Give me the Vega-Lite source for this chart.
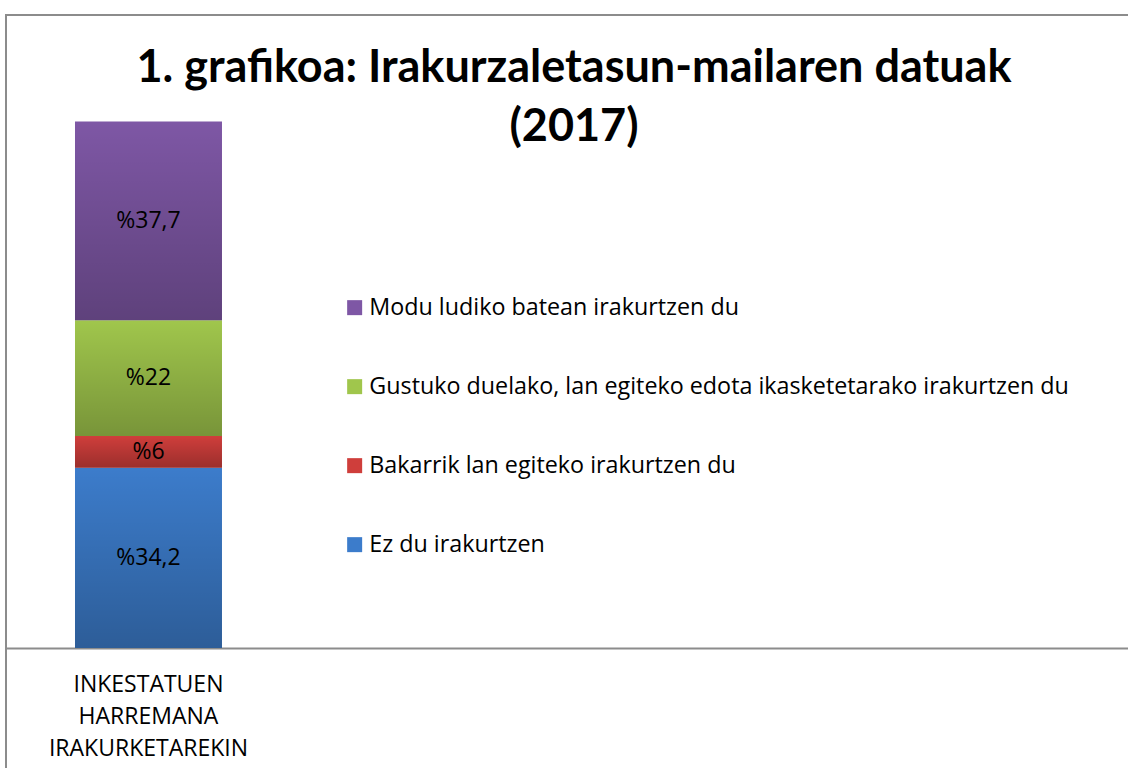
{
  "$schema": "https://vega.github.io/schema/vega-lite/v6.json",
  "width": 1124,
  "height": 760,
  "autosize": "none",
  "padding": {"left": 6, "top": 15, "right": 0, "bottom": 0},
  "background": "white",
  "config": {"view": {"stroke": "#8c8c8c", "strokeWidth": 2}, "font": "Open Sans"},
  "title": {
    "text": ["1. grafikoa: Irakurzaletasun-mailaren datuak", "(2017)"],
    "anchor": "middle",
    "frame": "group",
    "orient": "top",
    "offset": 0,
    "baseline": "alphabetic",
    "dy": 171,
    "dx": 6,
    "fontSize": 45,
    "fontWeight": "bold",
    "color": "#000000",
    "font": "Lato",
    "lineHeight": 59
  },
  "data": {
    "values": [
      {"group": "INKESTATUEN HARREMANA IRAKURKETAREKIN", "category": "Ez du irakurtzen", "value": 34.2},
      {"group": "INKESTATUEN HARREMANA IRAKURKETAREKIN", "category": "Bakarrik lan egiteko irakurtzen du", "value": 6},
      {"group": "INKESTATUEN HARREMANA IRAKURKETAREKIN", "category": "Gustuko duelako, lan egiteko edota ikasketetarako irakurtzen du", "value": 22},
      {"group": "INKESTATUEN HARREMANA IRAKURKETAREKIN", "category": "Modu ludiko batean irakurtzen du", "value": 37.7}
    ]
  },
  "transform": [
    {"calculate": "indexof(['Ez du irakurtzen','Bakarrik lan egiteko irakurtzen du','Gustuko duelako, lan egiteko edota ikasketetarako irakurtzen du','Modu ludiko batean irakurtzen du'], datum.category)", "as": "stackIdx"},
    {"stack": "value", "groupby": ["group"], "sort": [{"field": "stackIdx", "order": "ascending"}], "as": ["y0", "y1"]},
    {"calculate": "(datum.y0 + datum.y1) / 2", "as": "ymid"},
    {"calculate": "'%' + replace('' + datum.value, '.', ',')", "as": "label"}
  ],
  "encoding": {
    "x": {
      "field": "group",
      "type": "nominal",
      "scale": {"type": "band", "paddingInner": 0.6991, "paddingOuter": 1, "align": 0.07062, "round": false},
      "axis": {
        "title": null,
        "orient": "bottom",
        "offset": -127,
        "domainColor": "#8c8c8c",
        "domainWidth": 2,
        "ticks": false,
        "labelAngle": 0,
        "labelFontSize": 23,
        "labelFont": "Open Sans",
        "labelColor": "#000000",
        "labelLineHeight": 32,
        "labelPadding": 25,
        "labelBaseline": "top",
        "labelLimit": 0,
        "labelExpr": "split(datum.label, ' ')"
      }
    }
  },
  "layer": [
    {
      "mark": {"type": "bar"},
      "encoding": {
        "y": {"field": "y0", "type": "quantitative", "scale": {"domain": [-24.1, 120.1], "zero": false, "nice": false}, "axis": null},
        "y2": {"field": "y1"},
        "color": {
          "field": "category",
          "type": "nominal",
          "scale": {
            "domain": ["Modu ludiko batean irakurtzen du", "Gustuko duelako, lan egiteko edota ikasketetarako irakurtzen du", "Bakarrik lan egiteko irakurtzen du", "Ez du irakurtzen"],
            "range": ["#7E57A5", "#A0C64C", "#CF3E3B", "#3C7CCB"]
          },
          "legend": {
            "orient": "none",
            "legendX": 337,
            "legendY": 281,
            "title": null,
            "symbolType": "square",
            "symbolSize": 225,
            "symbolStrokeWidth": 0,
            "labelFontSize": 23.3,
            "labelFont": "Open Sans",
            "labelColor": "#000000",
            "labelLimit": 0,
            "rowPadding": 55,
            "labelOffset": 3,
            "padding": 0
          }
        }
      }
    },
    {
      "mark": {
        "type": "bar",
        "fill": {"gradient": "linear", "x1": 0, "y1": 0, "x2": 0, "y2": 1, "stops": [{"offset": 0, "color": "rgba(0,0,0,0)"}, {"offset": 1, "color": "rgba(0,0,0,0.25)"}]}
      },
      "encoding": {
        "y": {"field": "y0", "type": "quantitative", "scale": {"domain": [-24.1, 120.1], "zero": false, "nice": false}, "axis": null},
        "y2": {"field": "y1"}
      }
    },
    {
      "mark": {"type": "text", "fontSize": 23, "font": "Open Sans", "color": "#000000"},
      "encoding": {
        "y": {"field": "ymid", "type": "quantitative", "scale": {"domain": [-24.1, 120.1], "zero": false, "nice": false}, "axis": null},
        "text": {"field": "label", "type": "nominal"}
      }
    }
  ]
}
